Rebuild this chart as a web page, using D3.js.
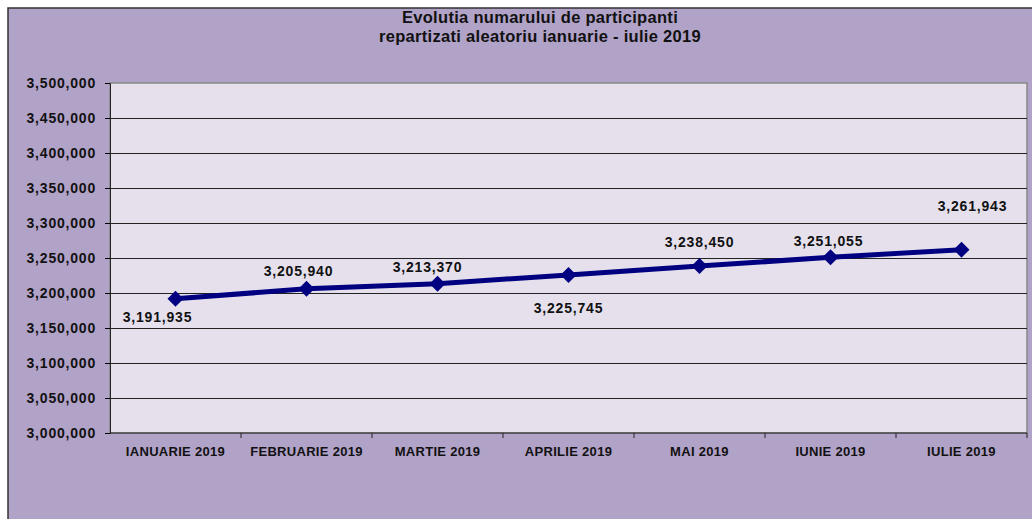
<!DOCTYPE html>
<html>
<head>
<meta charset="utf-8">
<script src="https://cdn.jsdelivr.net/npm/d3@7"></script>
<style>
  body { margin: 0; background: #ffffff; }
  text { font-family: "Liberation Sans", Arial, sans-serif; font-weight: bold; fill: #111; }
</style>
</head>
<body>
<div id="chart"></div>
<script>
// chart data
var months = ["IANUARIE 2019", "FEBRUARIE 2019", "MARTIE 2019", "APRILIE 2019", "MAI 2019", "IUNIE 2019", "IULIE 2019"];
var participants = [3191935, 3205940, 3213370, 3225745, 3238450, 3251055, 3261943];
var yTicks = [3000000, 3050000, 3100000, 3150000, 3200000, 3250000, 3300000, 3350000, 3400000, 3450000, 3500000];
var titleLines = ["Evolutia numarului de participanti", "repartizati aleatoriu ianuarie - iulie 2019"];

var svgWidth = 1032;
var svgHeight = 519;

// plot area
var plot = { left: 110, top: 83, right: 1027, bottom: 433 };

var svg = d3.select("#chart")
  .append("svg")
  .attr("width", svgWidth)
  .attr("height", svgHeight);

// outer chart area
svg.append("rect")
  .attr("x", 8).attr("y", 8)
  .attr("width", svgWidth + 20).attr("height", svgHeight + 20)
  .attr("fill", "#b1a2c8")
  .attr("stroke", "#333")
  .attr("stroke-width", 1.5);

// title
svg.append("text")
  .attr("x", 540)
  .attr("y", 23)
  .attr("text-anchor", "middle")
  .style("font-size", "16.5px")
  .style("letter-spacing", "0.3px")
  .selectAll("tspan")
  .data(titleLines)
  .enter().append("tspan")
  .attr("x", 540)
  .attr("dy", function (d, i) { return i === 0 ? 0 : 19; })
  .text(function (d) { return d; });

var x = d3.scaleBand().domain(months).range([plot.left, plot.right]);
var y = d3.scaleLinear().domain([3000000, 3500000]).range([plot.bottom, plot.top]);

// plot background
svg.append("rect")
  .attr("x", plot.left).attr("y", plot.top)
  .attr("width", plot.right - plot.left).attr("height", plot.bottom - plot.top)
  .attr("fill", "#e5e0ec")
  .attr("stroke", "#888")
  .attr("stroke-width", 1.5);

// gridlines
svg.append("g")
  .selectAll("line")
  .data(yTicks.slice(1, -1))
  .enter().append("line")
  .attr("x1", plot.left).attr("x2", plot.right)
  .attr("y1", function (d) { return Math.round(y(d)) + 0.5; })
  .attr("y2", function (d) { return Math.round(y(d)) + 0.5; })
  .attr("stroke", "#222")
  .attr("stroke-width", 1);

// y axis
var yAxis = svg.append("g")
  .attr("transform", "translate(" + plot.left + ",0)")
  .call(d3.axisLeft(y).tickValues(yTicks).tickFormat(d3.format(",")).tickSize(5).tickPadding(9));
yAxis.select(".domain").attr("stroke", "#222");
yAxis.selectAll("text")
  .style("font-size", "14px")
  .style("letter-spacing", "0.8px")
  .attr("fill", "#111")
  .attr("font-family", null);

// x axis: labels centred, ticks at category boundaries
svg.append("line")
  .attr("x1", plot.left).attr("x2", plot.right)
  .attr("y1", plot.bottom).attr("y2", plot.bottom)
  .attr("stroke", "#222");

svg.append("g")
  .selectAll("line")
  .data(months)
  .enter().append("line")
  .attr("x1", function (d) { return x(d) + x.bandwidth(); })
  .attr("x2", function (d) { return x(d) + x.bandwidth(); })
  .attr("y1", plot.bottom).attr("y2", plot.bottom + 5)
  .attr("stroke", "#222");

svg.append("g")
  .selectAll("text")
  .data(months)
  .enter().append("text")
  .attr("x", function (d) { return x(d) + x.bandwidth() / 2; })
  .attr("y", plot.bottom + 23)
  .attr("text-anchor", "middle")
  .style("font-size", "13px")
  .style("letter-spacing", "0.3px")
  .text(function (d) { return d; });

// series line
var line = d3.line()
  .x(function (d, i) { return x(months[i]) + x.bandwidth() / 2; })
  .y(function (d) { return y(d); });

svg.append("path")
  .datum(participants)
  .attr("d", line)
  .attr("fill", "none")
  .attr("stroke", "#000080")
  .attr("stroke-width", 5);

// diamond markers
svg.append("g")
  .selectAll("path")
  .data(participants)
  .enter().append("path")
  .attr("d", d3.symbol().type(d3.symbolSquare).size(128))
  .attr("transform", function (d, i) {
    return "translate(" + (x(months[i]) + x.bandwidth() / 2) + "," + y(d) + ") rotate(45)";
  })
  .attr("fill", "#000080");

// data labels, placed like the original
var labelShift = [[-18, 23], [-8, -13], [-10, -12], [0, 38], [0, -19], [-2, -11], [11, -39]];
svg.append("g")
  .selectAll("text")
  .data(participants)
  .enter().append("text")
  .attr("x", function (d, i) { return x(months[i]) + x.bandwidth() / 2 + labelShift[i][0]; })
  .attr("y", function (d, i) { return y(d) + labelShift[i][1]; })
  .attr("text-anchor", "middle")
  .style("font-size", "14px")
  .style("letter-spacing", "0.8px")
  .text(function (d) { return d3.format(",")(d); });
</script>
</body>
</html>
